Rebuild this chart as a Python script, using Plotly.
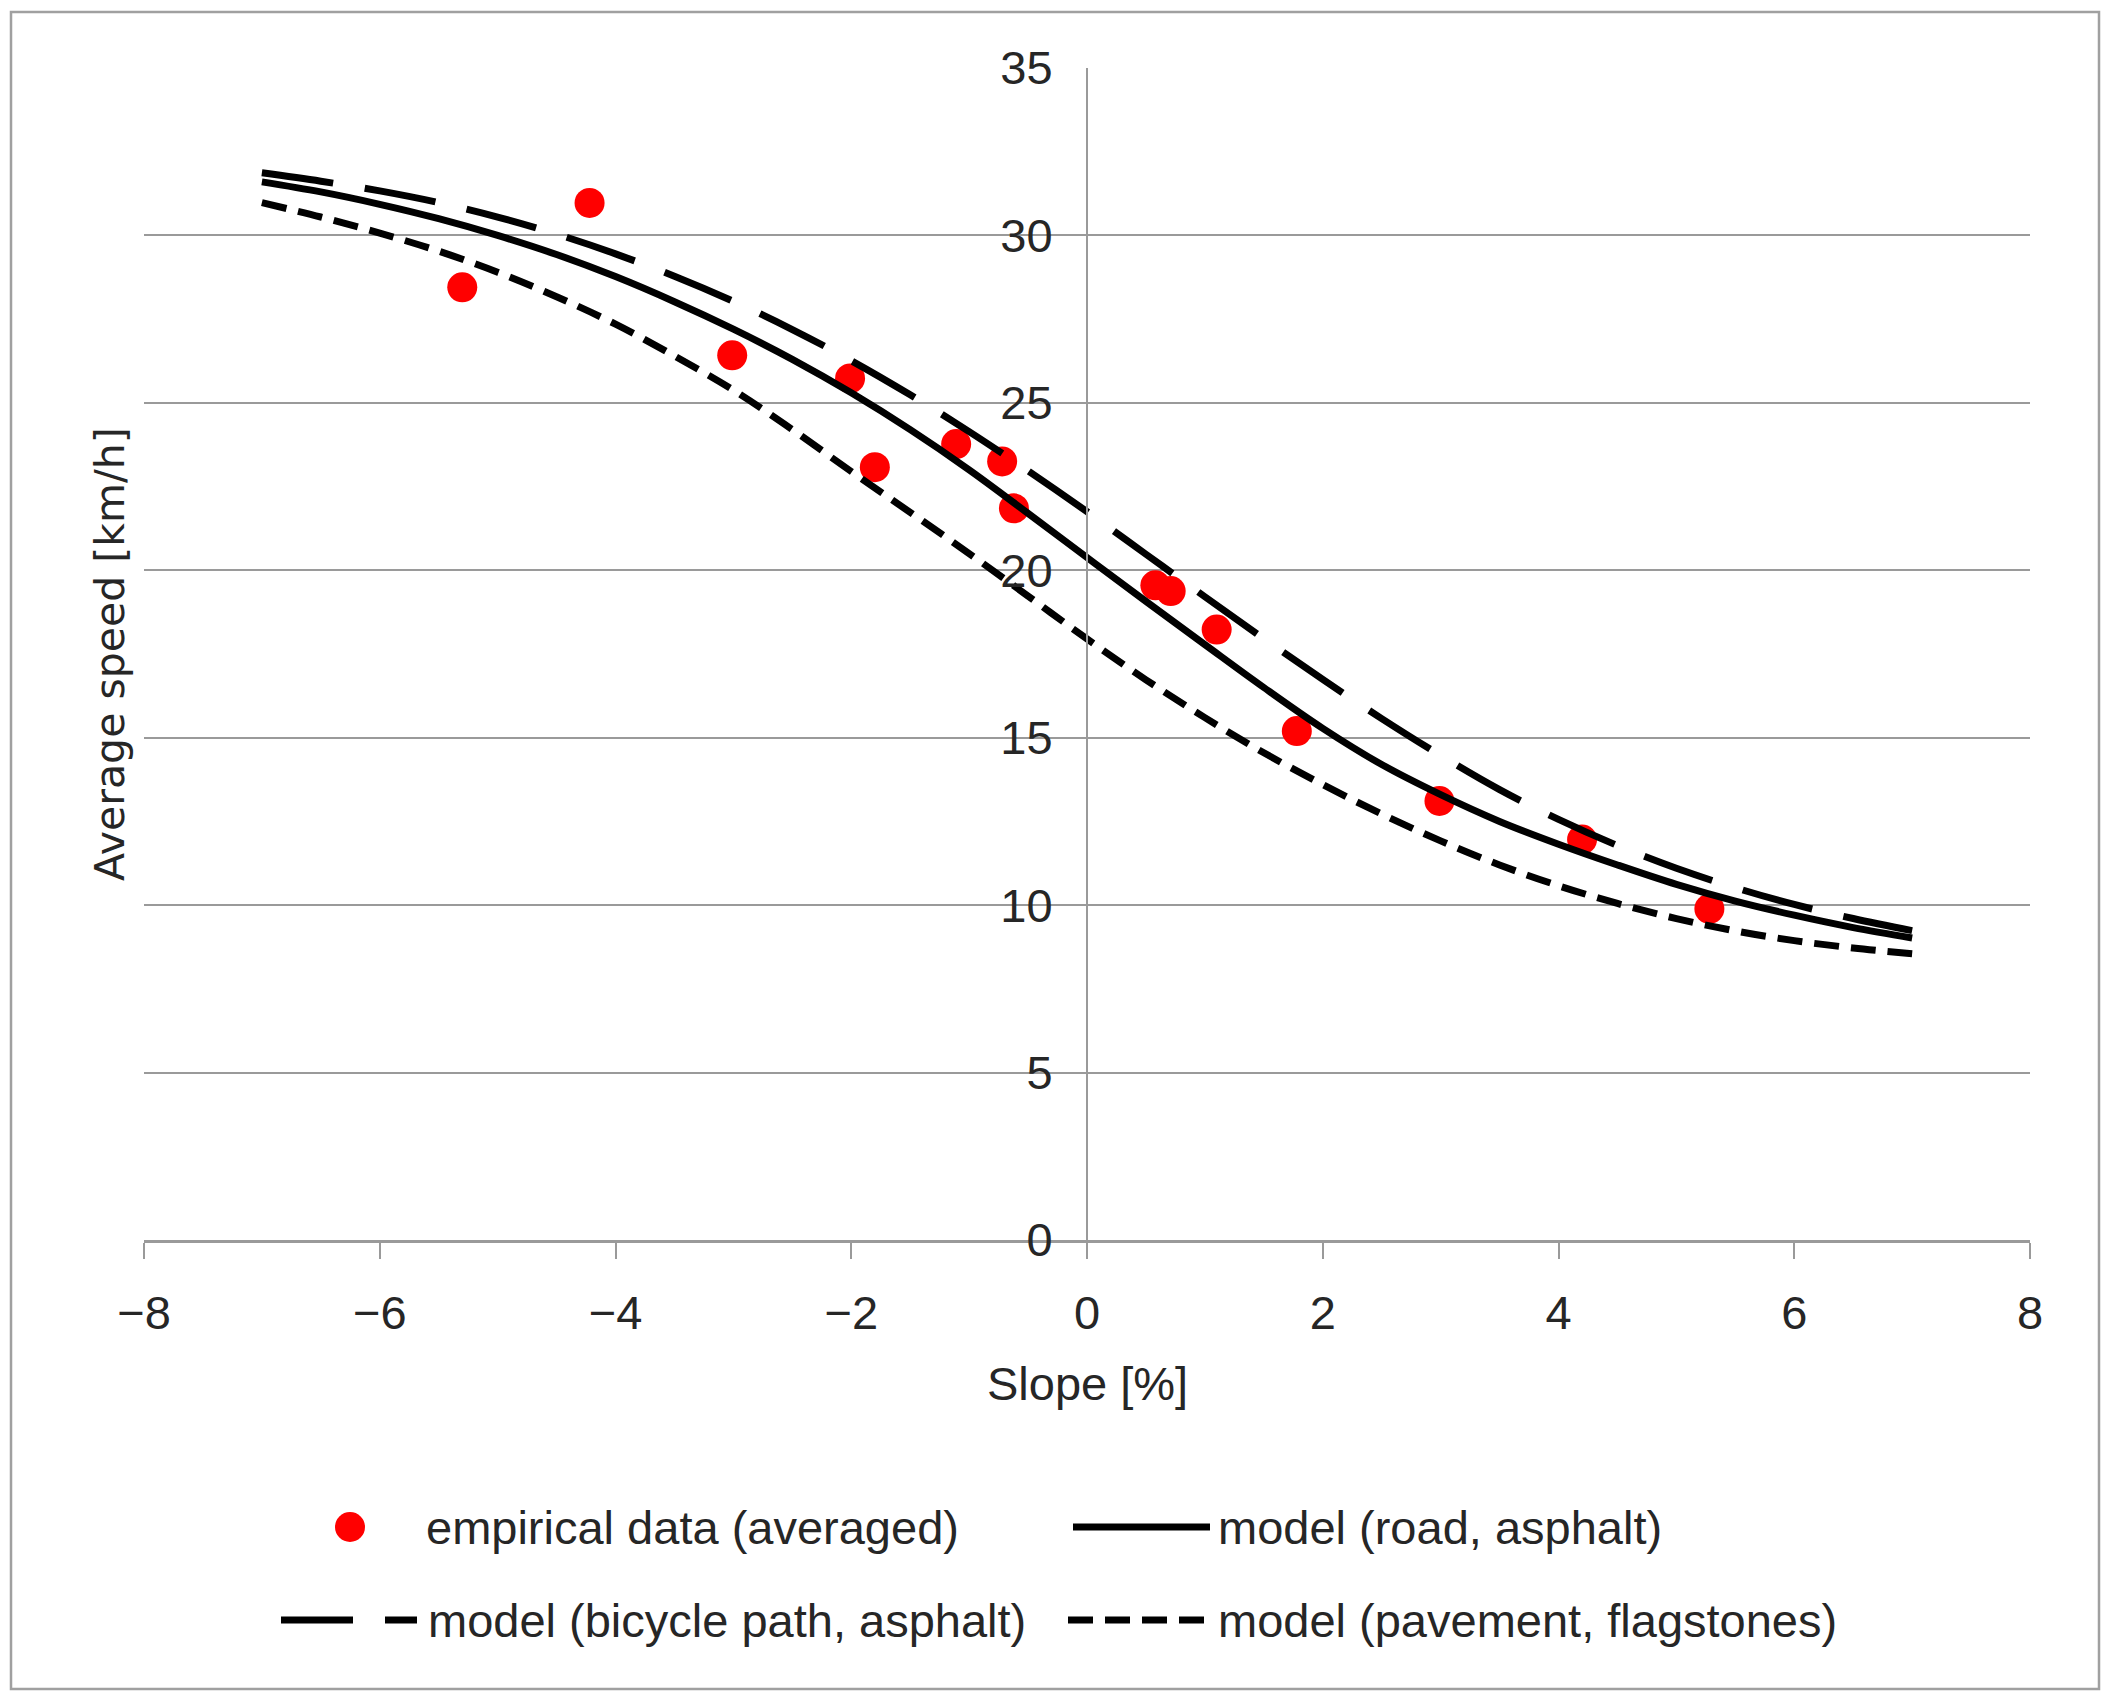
import plotly.graph_objects as go

# ---- data ----
emp_x = [-5.30, -4.22, -3.01, -2.01, -1.80, -1.11, -0.72, -0.62, 0.58, 0.71, 1.10, 1.78, 2.99, 4.20, 5.28]
emp_y = [28.45, 30.97, 26.42, 25.73, 23.08, 23.77, 23.25, 21.85, 19.55, 19.38, 18.23, 15.20, 13.11, 11.96, 9.89]

model_x = [-7, -6.5, -6, -5.5, -5, -4.5, -4, -3.5, -3, -2.5, -2, -1.5, -1, -0.5, 0,
           0.5, 1, 1.5, 2, 2.5, 3, 3.5, 4, 4.5, 5, 5.5, 6, 6.5, 7]
road_y = [31.6, 31.3, 30.93, 30.5, 30.0, 29.43, 28.77, 28.02, 27.2, 26.3, 25.3, 24.2, 23.0, 21.7, 20.38,
          19.07, 17.78, 16.5, 15.28, 14.2, 13.3, 12.5, 11.82, 11.2, 10.62, 10.12, 9.7, 9.33, 9.02]
bike_y = [31.87, 31.62, 31.33, 30.98, 30.55, 30.04, 29.45, 28.78, 28.03, 27.19, 26.26, 25.24, 24.14, 22.97, 21.75,
          20.48, 19.21, 17.96, 16.74, 15.57, 14.47, 13.45, 12.56, 11.78, 11.1, 10.52, 10.02, 9.6, 9.24]
pave_y = [30.98, 30.55, 30.07, 29.53, 28.9, 28.17, 27.35, 26.4, 25.38, 24.2, 22.95, 21.73, 20.5, 19.23, 17.95,
          16.73, 15.6, 14.55, 13.6, 12.72, 11.92, 11.2, 10.58, 10.05, 9.6, 9.23, 8.94, 8.72, 8.55]

x_ticks = [-8, -6, -4, -2, 0, 2, 4, 6, 8]
y_ticks = [0, 5, 10, 15, 20, 25, 30, 35]

names = ["empirical data (averaged)", "model (road, asphalt)",
         "model (bicycle path, asphalt)", "model (pavement, flagstones)"]

# ---- layout geometry (pixels) ----
W, H = 2112, 1707
L, R, T, B = 144, 82, 68, 467
PW = W - L - R
PH = H - T - B


def px(xp):
    return (xp - L) / PW


def py(yp):
    return (T + PH - yp) / PH


FONT = "Liberation Sans, Arial, sans-serif"
TXT = "#262626"
GRID = "#9a9a9a"
LW = 7
DASH_LONG = "72px,32px"
DASH_SHORT = "25px,12px"

fig = go.Figure()
fig.add_trace(go.Scatter(x=emp_x, y=emp_y, mode="markers", name=names[0],
                         marker=dict(color="#ff0000", size=30, line=dict(width=0))))
fig.add_trace(go.Scatter(x=model_x, y=road_y, mode="lines", name=names[1],
                         line=dict(color="black", width=LW, shape="spline")))
fig.add_trace(go.Scatter(x=model_x, y=bike_y, mode="lines", name=names[2],
                         line=dict(color="black", width=LW, dash=DASH_LONG, shape="spline")))
fig.add_trace(go.Scatter(x=model_x, y=pave_y, mode="lines", name=names[3],
                         line=dict(color="black", width=LW, dash=DASH_SHORT, shape="spline")))

fig.update_layout(
    width=W, height=H,
    margin=dict(l=L, r=R, t=T, b=B),
    paper_bgcolor="white", plot_bgcolor="white",
    showlegend=False,
    font=dict(family=FONT, size=47, color=TXT),
    xaxis=dict(range=[-8, 8], tickvals=x_ticks, showgrid=False, zeroline=False,
               showline=True, linecolor=GRID, linewidth=3,
               ticks="outside", ticklen=16, tickwidth=2, tickcolor=GRID,
               tickfont=dict(family=FONT, size=47, color=TXT), ticklabelstandoff=14),
    yaxis=dict(range=[0, 35], tickvals=y_ticks, showgrid=True, gridcolor=GRID, gridwidth=2,
               zeroline=False, showline=True, linecolor=GRID, linewidth=2,
               anchor="free", position=0.5, ticks="",
               tickfont=dict(family=FONT, size=47, color=TXT), ticklabelstandoff=24),
)

shapes = [
    # outer frame
    dict(type="rect", xref="paper", yref="paper", x0=px(11), x1=px(2099), y0=py(1689), y1=py(12),
         line=dict(color="#a0a0a0", width=2.5), layer="below"),
    # legend keys
    dict(type="circle", xref="paper", yref="paper", x0=px(335), x1=px(365), y0=py(1542), y1=py(1512),
         fillcolor="#ff0000", line=dict(width=0)),
    dict(type="line", xref="paper", yref="paper", x0=px(1073), x1=px(1210), y0=py(1527), y1=py(1527),
         line=dict(color="black", width=7)),
    dict(type="line", xref="paper", yref="paper", x0=px(281), x1=px(417), y0=py(1620), y1=py(1620),
         line=dict(color="black", width=7, dash=DASH_LONG)),
    dict(type="line", xref="paper", yref="paper", x0=px(1068), x1=px(1209), y0=py(1620), y1=py(1620),
         line=dict(color="black", width=7, dash=DASH_SHORT)),
]
fig.update_layout(shapes=shapes)

annotations = [
    dict(text="Average speed [km/h]", xref="paper", yref="paper", x=px(110), y=0.5,
         textangle=-90, showarrow=False, xanchor="center", yanchor="middle",
         font=dict(family="DejaVu Sans, sans-serif", size=41, color=TXT)),
    dict(text="Slope [%]", xref="paper", yref="paper", x=0.5, y=py(1383),
         showarrow=False, xanchor="center", yanchor="middle",
         font=dict(family=FONT, size=47, color=TXT)),
    dict(text=names[0], xref="paper", yref="paper", x=px(424), y=py(1527),
         showarrow=False, xanchor="left", yanchor="middle", font=dict(family=FONT, size=47, color=TXT)),
    dict(text=names[1], xref="paper", yref="paper", x=px(1216), y=py(1527),
         showarrow=False, xanchor="left", yanchor="middle", font=dict(family=FONT, size=47, color=TXT)),
    dict(text=names[2], xref="paper", yref="paper", x=px(426), y=py(1620),
         showarrow=False, xanchor="left", yanchor="middle", font=dict(family=FONT, size=47, color=TXT)),
    dict(text=names[3], xref="paper", yref="paper", x=px(1216), y=py(1620),
         showarrow=False, xanchor="left", yanchor="middle", font=dict(family=FONT, size=47, color=TXT)),
]
fig.update_layout(annotations=annotations)

fig.write_html("out.html", config={"displayModeBar": False},
               post_script="document.body.style.margin='0';")
